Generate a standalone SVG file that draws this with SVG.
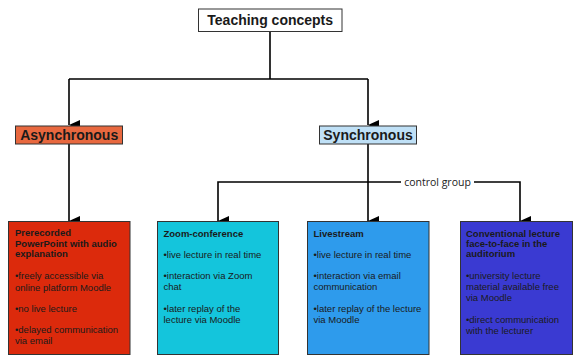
<svg xmlns="http://www.w3.org/2000/svg" width="574" height="356" viewBox="0 0 574 356">
<defs>
<marker id="ah" markerUnits="userSpaceOnUse" markerWidth="10" markerHeight="11" refX="5" refY="11" orient="auto-start-reverse" viewBox="0 0 10 11">
<path d="M0,0 L10,0 L5,11 Z" fill="#000"/>
</marker>
<style>
.ln{fill:none;stroke:#000;stroke-width:1.6}
.box{stroke:#333;stroke-width:1}
.hd{font-family:"Liberation Sans",Arial,sans-serif;font-weight:bold;font-size:14px;fill:#1a1a1a}
.t{font-family:"Liberation Sans",Arial,sans-serif;font-size:9.5px;fill:#1a1a1a}
.b{font-weight:bold}
.lbl{font-family:"Open Sans","Noto Sans",sans-serif;font-size:10.5px;fill:#222}
</style>
</defs>
<rect width="574" height="356" fill="#fff"/>
<g id="connectors">
<path class="ln" d="M270,31.5 V79 M69,79 H368"/>
<path class="ln" d="M69,79 V125" marker-end="url(#ah)"/>
<path class="ln" d="M368,79 V125" marker-end="url(#ah)"/>
<path class="ln" d="M69,144 V221" marker-end="url(#ah)"/>
<path class="ln" d="M368,144 V221" marker-end="url(#ah)"/>
<path class="ln" d="M218,221 V182 H520 V221" marker-start="url(#ah)" marker-end="url(#ah)"/>
<rect x="401" y="175" width="73" height="14" fill="#fff"/>
<text class="lbl" x="437.5" y="186" text-anchor="middle">control group</text>
</g>
<g id="teaching">
<rect class="box" x="198.5" y="9" width="143.5" height="22.5" fill="#fff"/>
<text class="hd" x="270.2" y="25" text-anchor="middle">Teaching concepts</text>
</g>
<g id="asynchronous">
<rect class="box" x="15.5" y="126" width="107" height="18" fill="#e8683f"/>
<text class="hd" x="69.2" y="139.5" text-anchor="middle">Asynchronous</text>
</g>
<g id="synchronous">
<rect class="box" x="319.5" y="126" width="97" height="18" fill="#bfe0f6"/>
<text class="hd" x="368" y="139.5" text-anchor="middle">Synchronous</text>
</g>
<g id="prerecorded">
<rect class="box" x="8.5" y="221.5" width="121.5" height="133" fill="#dc2a0c"/>
<text class="t" x="15">
<tspan class="b" x="15" y="236">Prerecorded</tspan>
<tspan class="b" x="15" y="246.5">PowerPoint with audio</tspan>
<tspan class="b" x="15" y="257">explanation</tspan>
<tspan x="15" y="279">•freely accessible via</tspan>
<tspan x="15" y="290.5">online platform Moodle</tspan>
<tspan x="15" y="312">•no live lecture</tspan>
<tspan x="15" y="332.5">•delayed communication</tspan>
<tspan x="15" y="344">via email</tspan>
</text>
</g>
<g id="zoom">
<rect class="box" x="157.5" y="221.5" width="121" height="133" fill="#14c5dc"/>
<text class="t">
<tspan class="b" x="163.5" y="236.5">Zoom-conference</tspan>
<tspan x="163.5" y="257.5">•live lecture in real time</tspan>
<tspan x="163.5" y="279">•interaction via Zoom</tspan>
<tspan x="163.5" y="290">chat</tspan>
<tspan x="163.5" y="311.5">•later replay of the</tspan>
<tspan x="163.5" y="322.5">lecture via Moodle</tspan>
</text>
</g>
<g id="livestream">
<rect class="box" x="307.5" y="221.5" width="121.5" height="133" fill="#2e9bec"/>
<text class="t">
<tspan class="b" x="313.5" y="236.5">Livestream</tspan>
<tspan x="313.5" y="257.5">•live lecture in real time</tspan>
<tspan x="313.5" y="279">•interaction via email</tspan>
<tspan x="313.5" y="290">communication</tspan>
<tspan x="313.5" y="311.5">•later replay of the lecture</tspan>
<tspan x="313.5" y="322.5">via Moodle</tspan>
</text>
</g>
<g id="conventional">
<rect class="box" x="460.5" y="221.5" width="112" height="133" fill="#3a3ad2"/>
<text class="t">
<tspan class="b" x="466" y="236.5">Conventional lecture</tspan>
<tspan class="b" x="466" y="246.5">face-to-face in the</tspan>
<tspan class="b" x="466" y="257">auditorium</tspan>
<tspan x="466" y="279">•university lecture</tspan>
<tspan x="466" y="290">material available free</tspan>
<tspan x="466" y="300.5">via Moodle</tspan>
<tspan x="466" y="322.5">•direct communication</tspan>
<tspan x="466" y="333.5">with the lecturer</tspan>
</text>
</g>
</svg>
